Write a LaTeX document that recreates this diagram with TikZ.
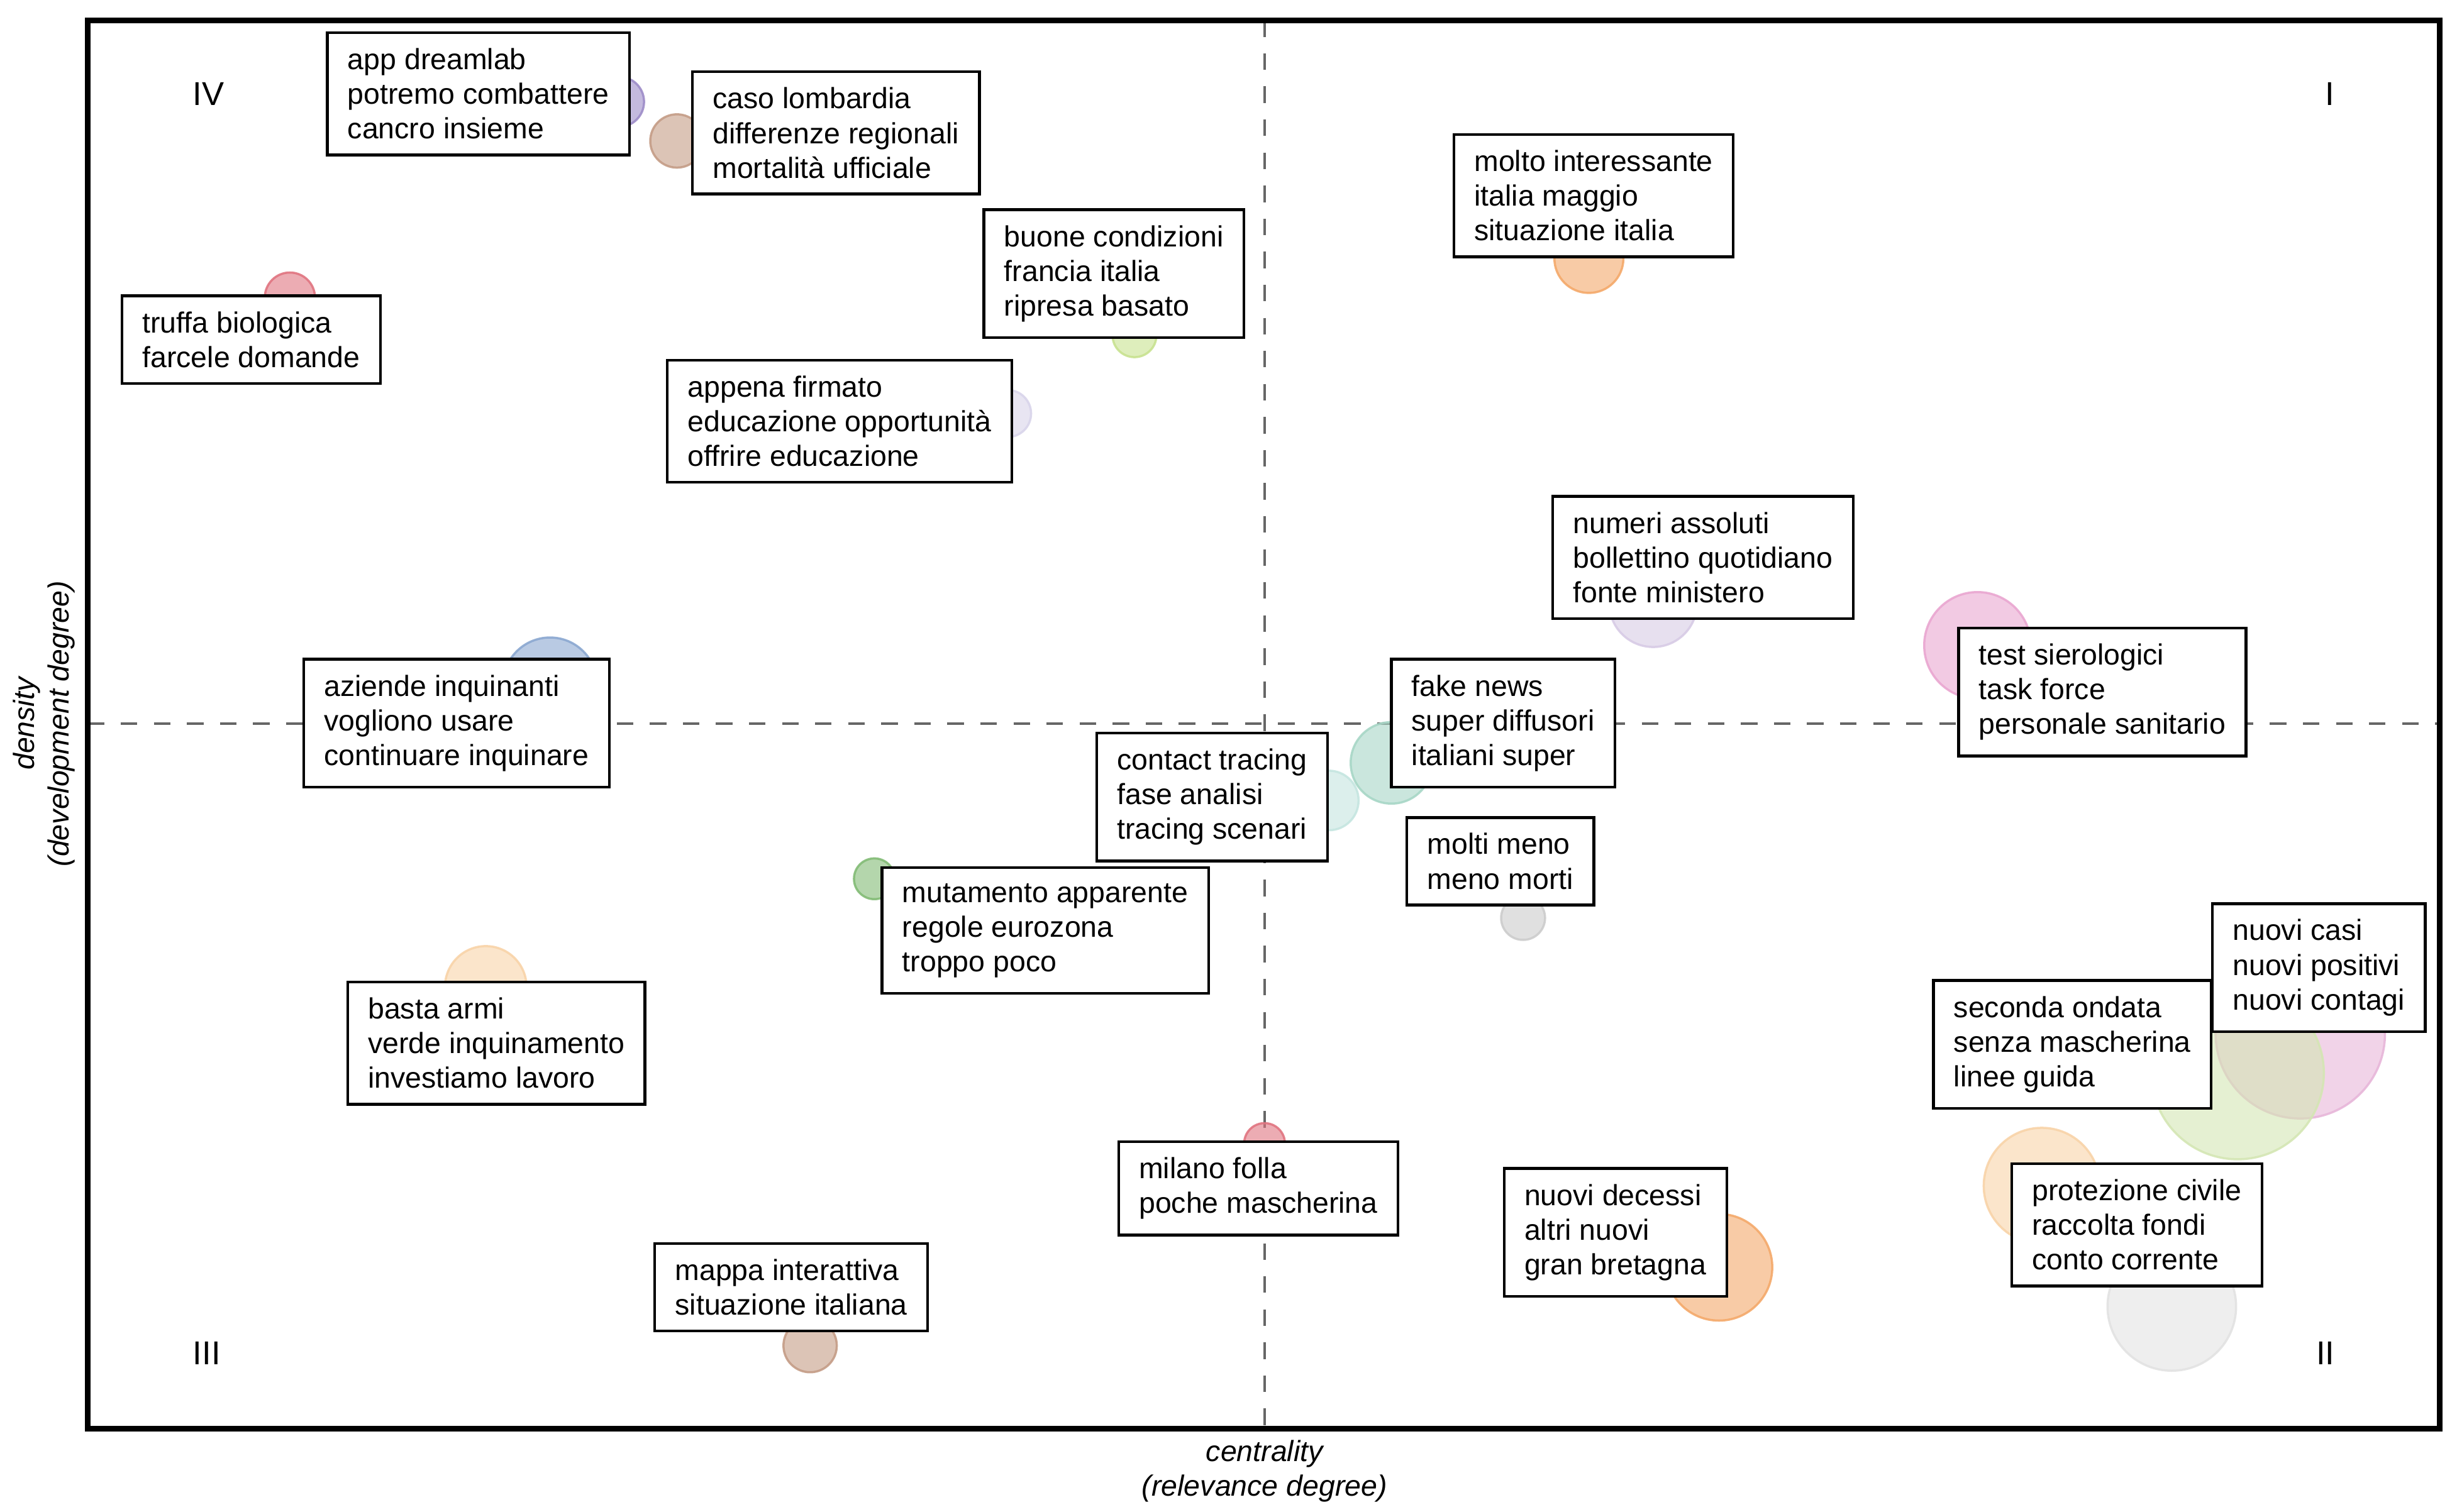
\documentclass[tikz,border=0pt]{standalone}
\usepackage{fontspec}
\setmainfont{Liberation Sans}
\usetikzlibrary{positioning}

\tikzset{
  topic/.style={draw=black, fill=white, anchor=north west, align=left, inner xsep=0.13cm, inner ysep=0.1cm, font=\fontsize{5.3}{6.3}\selectfont, line width=0.5pt},
  bubble/.style={circle, draw=#1, fill=#1, fill opacity=0.6, draw opacity=0.9, inner sep=0pt},
  quad/.style={font=\fontsize{6}{7}\selectfont},
}
\definecolor{cpurple}{HTML}{9D8CC8}
\definecolor{cbrown}{HTML}{C49C86}
\definecolor{cred}{HTML}{E07480}
\definecolor{cyellow}{HTML}{C8E290}
\definecolor{clav}{HTML}{D8D4EA}
\definecolor{corange}{HTML}{F4A96A}
\definecolor{clav2}{HTML}{D7CBE5}
\definecolor{cpink}{HTML}{E9A6D0}
\definecolor{cblue}{HTML}{8AA7D0}
\definecolor{cteal}{HTML}{A7D6C6}
\definecolor{cteal2}{HTML}{C5E5E0}
\definecolor{cgreen}{HTML}{82BB75}
\definecolor{cgray}{HTML}{CCCCCC}
\definecolor{cpeach}{HTML}{F8D3A8}
\definecolor{cpinkb}{HTML}{E7B6D9}
\definecolor{clgreen}{HTML}{D4E6B4}
\definecolor{cgray2}{HTML}{E2E2E2}

\begin{document}
\begin{tikzpicture}[x=0.01cm,y=-0.01cm]
\useasboundingbox (0,0) rectangle (1568,965);

% axes
\draw[dashed, gray!80!black, line width=0.5pt] (807,13) -- (807,912);
\draw[dashed, gray!80!black, line width=0.5pt] (56,462) -- (1557,462);

% bubbles
\node[bubble=cpurple, minimum size=0.32cm] (b1) at (395,65) {};
\node[bubble=cbrown, minimum size=0.34cm] (b2) at (432,90) {};
\node[bubble=cred, minimum size=0.32cm] (b3) at (185,190) {};
\node[bubble=cyellow, minimum size=0.28cm] (b4) at (724,214) {};
\node[bubble=clav, minimum size=0.30cm] (b5) at (643,264) {};
\node[bubble=corange, minimum size=0.44cm] (b6) at (1014,165) {};
\node[bubble=clav2, minimum size=0.56cm] (b7) at (1055,385) {};
\node[bubble=cpink, minimum size=0.68cm] (b8) at (1262,412) {};
\node[bubble=cblue, minimum size=0.60cm] (b9) at (351,437) {};
\node[bubble=cteal, minimum size=0.52cm] (b10) at (888,487) {};
\node[bubble=cteal2, minimum size=0.38cm] (b11) at (848,511) {};
\node[bubble=cgreen, minimum size=0.26cm] (b12) at (558,561) {};
\node[bubble=cgray, minimum size=0.28cm] (b13) at (972,586) {};
\node[bubble=cpeach, minimum size=0.52cm] (b14) at (310,630) {};
\node[bubble=cpinkb, minimum size=1.08cm] (b15) at (1468,660) {};
\node[bubble=clgreen, minimum size=1.10cm] (b16) at (1428,685) {};
\node[bubble=cpeach, minimum size=0.74cm] (b17) at (1303,757) {};
\node[bubble=cgray2, minimum size=0.82cm] (b18) at (1386,834) {};
\node[bubble=corange, minimum size=0.68cm] (b19) at (1097,809) {};
\node[bubble=cred, minimum size=0.26cm] (b20) at (807,730) {};
\node[bubble=cbrown, minimum size=0.34cm] (b21) at (517,859) {};

% frame
\draw[line width=1pt] (56,13) rectangle (1557,912);

% topics
\node[topic] (t1) at (208,20) {app dreamlab\\potremo combattere\\cancro insieme};
\node[topic] (t2) at (441,45) {caso lombardia\\differenze regionali\\mortalità ufficiale};
\node[topic] (t3) at (627,133) {buone condizioni\\francia italia\\ripresa basato};
\node[topic] (t4) at (927,85) {molto interessante\\italia maggio\\situazione italia};
\node[topic] (t5) at (77,188) {truffa biologica\\farcele domande};
\node[topic] (t6) at (425,229) {appena firmato\\educazione opportunità\\offrire educazione};
\node[topic] (t7) at (990,316) {numeri assoluti\\bollettino quotidiano\\fonte ministero};
\node[topic] (t8) at (1249,400) {test sierologici\\task force\\personale sanitario};
\node[topic] (t9) at (193,420) {aziende inquinanti\\vogliono usare\\continuare inquinare};
\node[topic] (t10) at (887,420) {fake news\\super diffusori\\italiani super};
\node[topic] (t11) at (699,467) {contact tracing\\fase analisi\\tracing scenari};
\node[topic] (t12) at (897,521) {molti meno\\meno morti};
\node[topic] (t13) at (562,553) {mutamento apparente\\regole eurozona\\troppo poco};
\node[topic] (t14) at (1411,576) {nuovi casi\\nuovi positivi\\nuovi contagi};
\node[topic] (t15) at (1233,625) {seconda ondata\\senza mascherina\\linee guida};
\node[topic] (t16) at (221,626) {basta armi\\verde inquinamento\\investiamo lavoro};
\node[topic] (t17) at (713,728) {milano folla\\poche mascherina};
\node[topic] (t18) at (959,745) {nuovi decessi\\altri nuovi\\gran bretagna};
\node[topic] (t19) at (1283,742) {protezione civile\\raccolta fondi\\conto corrente};
\node[topic] (t20) at (417,793) {mappa interattiva\\situazione italiana};

% quadrants
\node[quad] (q1) at (1487,60) {I};
\node[quad] (q2) at (1484,864) {II};
\node[quad] (q3) at (132,864) {III};
\node[quad] (q4) at (133,60) {IV};

% axis labels
\node[align=center, font=\fontsize{5.3}{6.3}\selectfont\itshape] (xl) at (807,939) {centrality\\(relevance degree)};
\node[align=center, rotate=90, font=\fontsize{5.3}{6.3}\selectfont\itshape] (yl) at (28,462) {density\\(development degree)};
\end{tikzpicture}
\end{document}
